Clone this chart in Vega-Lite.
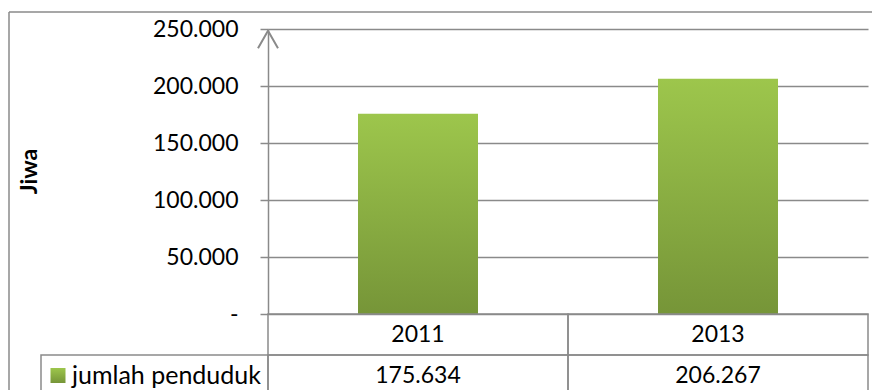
{
  "$schema": "https://vega.github.io/schema/vega-lite/v6.json",
  "width": 863,
  "height": 378,
  "autosize": {"type": "none"},
  "padding": {"left": 9, "top": 12, "right": 0, "bottom": 0},
  "background": "white",
  "datasets": {
    "pop": [
      {"tahun": "2011", "jumlah": 175634},
      {"tahun": "2013", "jumlah": 206267}
    ],
    "seri": [
      {"seri": "jumlah penduduk"}
    ]
  },
  "resolve": {"scale": {"x": "independent", "y": "independent"}},
  "layer": [
    {
      "data": {"name": "pop"},
      "encoding": {
        "x": {"field": "tahun", "type": "nominal", "axis": null,
              "scale": {"domain": ["2011", "2013"], "range": [259, 859], "paddingInner": 0, "paddingOuter": 0}},
        "y": {"field": "jumlah", "type": "quantitative",
              "scale": {"domain": [0, 250000], "range": [302, 17], "nice": false, "zero": true},
              "axis": {
                "title": "Jiwa",
                "titleFont": "Lato", "titleFontSize": 23, "titleFontWeight": "bold", "titleColor": "black",
                "titleX": -239, "titleY": 159, "titleAngle": -90, "titleAlign": "center", "titleBaseline": "middle",
                "offset": -259,
                "values": [0, 50000, 100000, 150000, 200000, 250000],
                "labelExpr": "datum.value === 0 ? '-\u00a0\u00a0\u00a0\u00a0' : format(datum.value, ',')",
                "labelFont": "Lato", "labelFontSize": 23, "labelColor": "black", "labelPadding": 22,
                "tickSize": 8, "tickColor": "#8a8a8a", "tickWidth": 1.5,
                "domainColor": "#8a8a8a", "domainWidth": 1.5,
                "grid": true, "gridColor": "#8a8a8a", "gridWidth": 1.5
              }}
      },
      "layer": [
        {
          "mark": {"type": "bar", "width": {"band": 0.4},
                   "color": {"gradient": "linear", "x1": 0, "y1": 0, "x2": 0, "y2": 1,
                             "stops": [{"offset": 0, "color": "#9dc64c"}, {"offset": 1, "color": "#769538"}]}}
        }
      ]
    },
    {
      "data": {"values": [{"a": 1}]},
      "mark": {"type": "point", "shape": "M-1,0.75L0,-1L1,0.75", "filled": false, "stroke": "#8a8a8a", "strokeWidth": 2, "size": 400, "yOffset": 11.7, "opacity": 1},
      "encoding": {
        "x": {"datum": 0, "type": "quantitative", "scale": {"domain": [0, 1], "range": [259, 859]}, "axis": null},
        "y": {"datum": 250000, "type": "quantitative", "scale": {"domain": [0, 250000], "range": [302, 17]}, "axis": null}
      }
    },
    {
      "data": {"name": "pop"},
      "encoding": {
        "x": {"field": "tahun", "type": "nominal", "axis": null,
              "scale": {"domain": ["2011", "2013"], "range": [259, 859], "paddingInner": 0, "paddingOuter": 0}}
      },
      "layer": [
        {
          "mark": {"type": "rect", "fillOpacity": 0, "stroke": "#8a8a8a", "strokeWidth": 1.5},
          "encoding": {"y": {"datum": "tahun", "type": "nominal", "axis": null,
                             "scale": {"domain": ["tahun", "jumlah penduduk"], "range": [302, 384], "paddingInner": 0, "paddingOuter": 0}}}
        },
        {
          "mark": {"type": "rect", "fillOpacity": 0, "stroke": "#8a8a8a", "strokeWidth": 1.5},
          "encoding": {"y": {"datum": "jumlah penduduk", "type": "nominal", "axis": null}}
        },
        {
          "mark": {"type": "text", "font": "Lato", "fontSize": 23, "color": "black", "align": "center", "baseline": "middle"},
          "encoding": {"y": {"datum": "tahun", "type": "nominal", "axis": null},
                       "text": {"field": "tahun", "type": "nominal"}}
        },
        {
          "mark": {"type": "text", "font": "Lato", "fontSize": 23, "color": "black", "align": "center", "baseline": "middle"},
          "encoding": {"y": {"datum": "jumlah penduduk", "type": "nominal", "axis": null},
                       "text": {"field": "jumlah", "type": "quantitative", "format": ","}}
        }
      ]
    },
    {
      "data": {"name": "seri"},
      "encoding": {
        "x": {"field": "seri", "type": "nominal", "axis": null,
              "scale": {"domain": ["jumlah penduduk"], "range": [32, 259], "paddingInner": 0, "paddingOuter": 0}},
        "y": {"datum": "jumlah penduduk", "type": "nominal", "axis": null,
              "scale": {"domain": ["tahun", "jumlah penduduk"], "range": [302, 384], "paddingInner": 0, "paddingOuter": 0}}
      },
      "layer": [
        {
          "mark": {"type": "rect", "fillOpacity": 0, "stroke": "#8a8a8a", "strokeWidth": 1.5}
        },
        {
          "mark": {"type": "point", "shape": "square", "filled": true, "size": 225, "xOffset": 17, "opacity": 1,
                   "color": {"gradient": "linear", "x1": 0, "y1": 0, "x2": 0, "y2": 1,
                             "stops": [{"offset": 0, "color": "#9dc64c"}, {"offset": 1, "color": "#769538"}]}},
          "encoding": {"x": {"field": "seri", "type": "nominal", "bandPosition": 0}}
        },
        {
          "mark": {"type": "text", "font": "Lato", "fontSize": 25, "color": "black", "align": "left", "baseline": "middle", "dx": 31},
          "encoding": {"x": {"field": "seri", "type": "nominal", "bandPosition": 0},
                       "text": {"field": "seri", "type": "nominal"}}
        }
      ]
    },
    {
      "data": {"values": [{"a": 1}]},
      "layer": [
        {
          "mark": {"type": "rule", "color": "#8a8a8a", "strokeWidth": 1.5},
          "encoding": {"y": {"datum": 1, "type": "quantitative", "scale": {"domain": [0, 1]}, "axis": null}}
        },
        {
          "mark": {"type": "rule", "color": "#8a8a8a", "strokeWidth": 1.5},
          "encoding": {"x": {"datum": 0, "type": "quantitative", "scale": {"domain": [0, 1]}, "axis": null}}
        }
      ]
    }
  ],
  "config": {
    "view": {"stroke": null},
    "font": "Lato",
    "locale": {"number": {"decimal": ",", "thousands": ".", "grouping": [3], "currency": ["Rp", ""]}}
  }
}
